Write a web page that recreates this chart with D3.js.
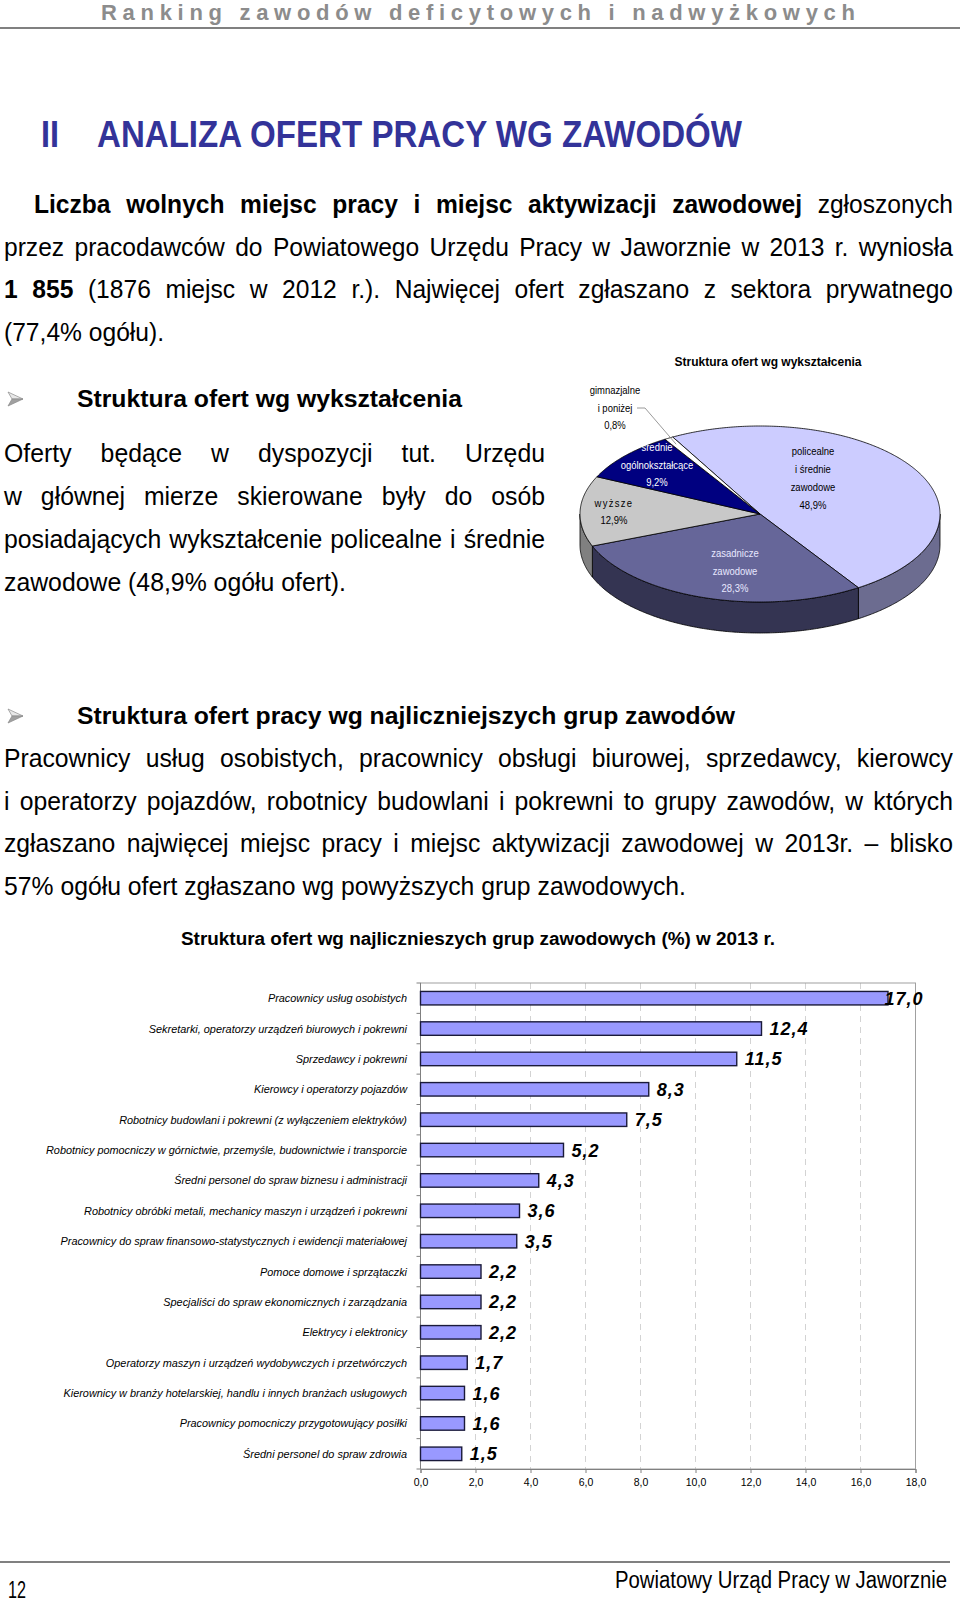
<!DOCTYPE html>
<html><head><meta charset="utf-8">
<script src="https://cdn.jsdelivr.net/npm/d3@7"></script>
<style>body{margin:0;background:#fff}svg{display:block}</style>
</head><body>
<svg id="c" width="960" height="1603"></svg>
<script>
// ---------- DATA ----------
const pieCategories = ["policealne i średnie zawodowe","zasadnicze zawodowe","wyższe","średnie ogólnokształcące","gimnazjalne i poniżej"];
const pieValues = [48.9, 28.3, 12.9, 9.2, 0.8];
const pieLabelLines = [["policealne","i średnie","zawodowe","48,9%"],["zasadnicze","zawodowe","28,3%"],["wyższe","12,9%"],["srednie","ogólnokształcące","9,2%"],["gimnazjalne","i poniżej","0,8%"]];

const barCategories = [
 "Pracownicy usług osobistych",
 "Sekretarki, operatorzy urządzeń biurowych i pokrewni",
 "Sprzedawcy i pokrewni",
 "Kierowcy i operatorzy pojazdów",
 "Robotnicy budowlani i pokrewni (z wyłączeniem elektryków)",
 "Robotnicy pomocniczy w górnictwie, przemyśle, budownictwie i transporcie",
 "Średni personel do spraw  biznesu i administracji",
 "Robotnicy obróbki metali, mechanicy maszyn i urządzeń i pokrewni",
 "Pracownicy do spraw finansowo-statystycznych i ewidencji materiałowej",
 "Pomoce domowe i sprzątaczki",
 "Specjaliści do spraw ekonomicznych i zarządzania",
 "Elektrycy i elektronicy",
 "Operatorzy maszyn i urządzeń wydobywczych i przetwórczych",
 "Kierownicy w branży hotelarskiej, handlu i innych branżach usługowych",
 "Pracownicy pomocniczy przygotowujący posiłki",
 "Średni personel do spraw zdrowia"];
const barValues = [17.0, 12.4, 11.5, 8.3, 7.5, 5.2, 4.3, 3.6, 3.5, 2.2, 2.2, 2.2, 1.7, 1.6, 1.6, 1.5];
const xTickValues = [0,2,4,6,8,10,12,14,16,18];

const headerText = "Ranking zawodów deficytowych i nadwyżkowych";
const para1 = ["**Liczba wolnych miejsc pracy i miejsc aktywizacji zawodowej** zgłoszonych",
 "przez pracodawców do Powiatowego Urzędu Pracy w Jaworznie w 2013 r. wyniosła",
 "**1 855** (1876 miejsc w 2012 r.). Najwięcej ofert zgłaszano z sektora prywatnego",
 "(77,4% ogółu)."];
const para2 = ["Oferty będące w dyspozycji tut. Urzędu",
 "w głównej mierze skierowane były do osób",
 "posiadających wykształcenie policealne i średnie",
 "zawodowe (48,9% ogółu ofert)."];
const para3 = ["Pracownicy usług osobistych, pracownicy obsługi biurowej, sprzedawcy, kierowcy",
 "i operatorzy pojazdów, robotnicy budowlani i pokrewni to grupy zawodów, w których",
 "zgłaszano najwięcej miejsc pracy i miejsc aktywizacji zawodowej w 2013r. – blisko",
 "57% ogółu ofert zgłaszano wg powyższych grup zawodowych."];

// ---------- HELPERS ----------
const svg = d3.select("#c");
const SANS = "'Liberation Sans', Arial, sans-serif";
function addText(g, str, x, y, o) {
  const t = g.append("text").attr("x", x).attr("y", y).text(str)
    .attr("font-family", o.family || SANS).attr("font-size", o.size)
    .attr("font-weight", o.bold ? "bold" : "normal")
    .attr("font-style", o.italic ? "italic" : "normal")
    .attr("fill", o.fill || "#000").attr("text-anchor", o.anchor || "start");
  if (o.ls) t.attr("letter-spacing", o.ls);
  if (o.width) t.attr("textLength", o.width).attr("lengthAdjust", o.adjust || "spacingAndGlyphs");
  if (o.k) { const w = t.node().getComputedTextLength(); t.attr("textLength", w * o.k).attr("lengthAdjust", "spacingAndGlyphs"); }
  return t;
}
function measureW(g, w, size, bold) {
  const t = g.append("text").attr("font-family", SANS).attr("font-size", size)
    .attr("font-weight", bold ? "bold" : "normal").text(w);
  const l = t.node().getComputedTextLength(); t.remove(); return l;
}
function parse(line) {
  const words = [];
  line.split("**").forEach((p, i) => p.split(" ").filter(s => s.length).forEach(w => words.push({w, b: i % 2 === 1})));
  return words;
}
function paragraph(lines, o) {
  const g = svg.append("g");
  const space = measureW(g, "a a", o.size, false) - measureW(g, "aa", o.size, false);
  const L = lines.map(parse);
  L.forEach(ws => ws.forEach(d => d.n = measureW(g, d.w, o.size, d.b)));
  const last = L[L.length - 1];
  const natLast = d3.sum(last, d => d.n) + space * (last.length - 1);
  const k = (o.lastEnd - o.x0) / natLast;
  L.forEach((ws, i) => {
    const xs = o.x0 + (i === 0 ? (o.indent || 0) : 0);
    const isLast = i === L.length - 1;
    const tot = d3.sum(ws, d => d.n * k);
    const gap = isLast ? space * k : (o.x1 - xs - tot) / (ws.length - 1);
    let x = xs; const y = o.y0 + i * o.lh;
    ws.forEach(d => {
      g.append("text").attr("x", x).attr("y", y).text(d.w)
        .attr("font-family", SANS).attr("font-size", o.size)
        .attr("font-weight", d.b ? "bold" : "normal").attr("fill", "#000")
        .attr("textLength", d.n * k).attr("lengthAdjust", "spacingAndGlyphs");
      x += d.n * k + gap;
    });
  });
}
function arrow(x, yc) {
  const g = svg.append("g");
  g.append("path").attr("d", `M${x},${yc-7}L${x+15},${yc}L${x+4},${yc}Z`).attr("fill", "#e8e8e8").attr("stroke", "#8a8a8a").attr("stroke-width", 0.7);
  g.append("path").attr("d", `M${x},${yc+7}L${x+15},${yc}L${x+4},${yc}Z`).attr("fill", "#a0a0a0").attr("stroke", "#8a8a8a").attr("stroke-width", 0.7);
}

// ---------- PAGE HEADER ----------
addText(svg, headerText, 101, 20, {size: 22, bold: true, fill: "#8c8c8c", width: 754, adjust: "spacing"});
svg.append("line").attr("x1", 0).attr("x2", 960).attr("y1", 28).attr("y2", 28).attr("stroke", "#808080").attr("stroke-width", 2);

addText(svg, "II", 41, 147, {size: 37, bold: true, fill: "#333399", width: 18});
addText(svg, "ANALIZA OFERT PRACY WG ZAWODÓW", 97, 147, {size: 37, bold: true, fill: "#333399", width: 645});

paragraph(para1, {x0: 4, x1: 953, y0: 213, lh: 42.7, size: 26, lastEnd: 164, indent: 30});

arrow(8, 399);
addText(svg, "Struktura ofert wg wykształcenia", 77, 407, {size: 23, bold: true, width: 385});
paragraph(para2, {x0: 4, x1: 545, y0: 462, lh: 43, size: 25, lastEnd: 346});

// ---------- PIE (3D) ----------
const pieG = svg.append("g");
addText(pieG, "Struktura ofert wg wykształcenia", 768, 366, {size: 13, bold: true, anchor: "middle", width: 187});
const cx = 760, cy = 514, rx = 180, ry = 88, depth = 31;
const a0 = -29 * Math.PI / 180;
const pie = d3.pie().sort(null).value(d => d).startAngle(a0).endAngle(a0 + 2 * Math.PI);
const arcs = pie(pieValues);
const topColors = ["#CCCCFF", "#666699", "#C8C8C8", "#000080", "#FFFFFF"];
const sideColors = ["#6C6C90", "#343452", "#808080", "#000040", "#999999"];
function pt(a, dz) { return [cx + rx * Math.sin(a), cy - ry * Math.cos(a) + (dz || 0)]; }
function arcPts(s, e, dz) { const n = Math.max(2, Math.ceil(Math.abs(e - s) / 0.01)); return d3.range(n + 1).map(i => pt(s + (e - s) * i / n, dz)); }
const line = d3.line();
arcs.forEach((d, i) => {
  const s = Math.max(d.startAngle, Math.PI / 2), e = Math.min(d.endAngle, 3 * Math.PI / 2);
  if (s < e) {
    const pts = arcPts(s, e, 0).concat(arcPts(s, e, depth).reverse());
    pieG.append("path").attr("d", line(pts) + "Z").attr("fill", sideColors[i]).attr("stroke", "#000").attr("stroke-width", 0.8);
  }
});
arcs.forEach((d, i) => {
  const pts = [[cx, cy]].concat(arcPts(d.startAngle, d.endAngle, 0));
  pieG.append("path").attr("d", line(pts) + "Z").attr("fill", topColors[i]).attr("stroke", "#000").attr("stroke-width", 0.8);
});
// leader line for the smallest slice
const gm = arcs[4]; const gmMid = (gm.startAngle + gm.endAngle) / 2;
const lp = [cx + rx * 0.92 * Math.sin(gmMid), cy - ry * 0.92 * Math.cos(gmMid)];
pieG.append("path").attr("d", line([[637, 408], [645, 408], lp])).attr("fill", "none").attr("stroke", "#808080").attr("stroke-width", 0.8);
// labels (layout offsets relative to pie centre)
const pieLabelLayout = [
  {dx: 53, dy: -63, step: 18, fill: "#000"},
  {dx: -25, dy: 39, step: 17.5, fill: "#E8E8FF"},
  {dx: -146, dy: -11, step: 16.5, fill: "#000"},
  {dx: -103, dy: -67, step: 17.5, fill: "#fff"},
  {dx: -145, dy: -124, step: 17.5, fill: "#000"}];
pieLabelLines.forEach((lines, i) => {
  const L = pieLabelLayout[i];
  lines.forEach((s, j) => addText(pieG, s, cx + L.dx, cy + L.dy + j * L.step + 4, {size: 11, anchor: "middle", fill: L.fill, k: 0.86, ls: (i === 2 && j === 0) ? 1.5 : null}));
});

// ---------- SECTION 2 ----------
arrow(8, 716);
addText(svg, "Struktura ofert pracy wg najliczniejszych grup zawodów", 77, 724, {size: 23, bold: true, width: 658});
paragraph(para3, {x0: 4, x1: 953, y0: 767, lh: 42.7, size: 25, lastEnd: 686});

// ---------- BAR CHART ----------
const bg = svg.append("g");
addText(bg, "Struktura ofert wg najlicznieszych grup zawodowych (%) w 2013 r.", 478, 945, {size: 18, bold: true, anchor: "middle", width: 594});
const x = d3.scaleLinear().domain([0, 18]).range([420.5, 915.5]);
const y = d3.scaleBand().domain(barCategories).range([983, 1469]).paddingInner(0.556).paddingOuter(0.278);
const fmt = v => d3.format(".1f")(v).replace(".", ",");
// grid
bg.append("g").selectAll("line").data(xTickValues.filter(v => v > 0 && v < 18)).join("line")
  .attr("x1", d => x(d)).attr("x2", d => x(d)).attr("y1", 983).attr("y2", 1469)
  .attr("stroke", "#c8c8c8").attr("stroke-width", 0.8).attr("stroke-dasharray", "6,5");
// frame
bg.append("rect").attr("x", x(0)).attr("y", 983).attr("width", x(18) - x(0)).attr("height", 486)
  .attr("fill", "none").attr("stroke", "#a0a0a0").attr("stroke-width", 1);
// bottom axis
const xa = bg.append("g").attr("transform", "translate(0,1469)")
  .call(d3.axisBottom(x).tickValues(xTickValues).tickFormat(fmt).tickSize(4).tickPadding(6));
xa.select(".domain").attr("stroke", "#808080");
xa.selectAll(".tick line").attr("stroke", "#808080");
xa.selectAll("text").attr("font-family", SANS).attr("font-size", 10.5).attr("fill", "#000");
// left axis line + ticks at band boundaries
const stepH = y.step();
const bounds = barCategories.map(c => y(c) - stepH * y.paddingInner() / 2).concat([1469]);
bg.append("line").attr("x1", x(0)).attr("x2", x(0)).attr("y1", 983).attr("y2", 1469).attr("stroke", "#808080");
bg.append("g").selectAll("line").data(bounds).join("line")
  .attr("x1", x(0) - 4).attr("x2", x(0)).attr("y1", d => d).attr("y2", d => d).attr("stroke", "#808080");
// bars
bg.append("g").selectAll("rect").data(barValues).join("rect")
  .attr("x", x(0)).attr("y", (d, i) => y(barCategories[i])).attr("width", d => x(d) - x(0)).attr("height", y.bandwidth())
  .attr("fill", "#9999FF").attr("stroke", "#1a1a3a").attr("stroke-width", 1.4);
// category labels
const catG = bg.append("g");
const catT = barCategories.map((c, i) => addText(catG, c, 407, y(c) + y.bandwidth() / 2 + 4, {size: 11, italic: true, anchor: "end", fill: "#000"}));
const kCat = 361 / catT[5].node().getComputedTextLength();
catT.forEach(t => { const w = t.node().getComputedTextLength(); t.attr("textLength", w * kCat).attr("lengthAdjust", "spacingAndGlyphs"); });
// value labels
const valG = bg.append("g");
barValues.forEach((v, i) => {
  const t = addText(valG, fmt(v), 0, y(barCategories[i]) + y.bandwidth() / 2 + 6.5, {size: 18, bold: true, italic: true, ls: 1});
  const w = t.node().getComputedTextLength();
  t.attr("x", Math.min(x(v) + 8, x(18) + 8 - w));
});

// ---------- FOOTER ----------
svg.append("line").attr("x1", 0).attr("x2", 950).attr("y1", 1562).attr("y2", 1562).attr("stroke", "#808080").attr("stroke-width", 2);
addText(svg, "12", 8, 1598, {size: 24, width: 18});
addText(svg, "Powiatowy Urząd Pracy w Jaworznie", 615, 1588, {size: 23, width: 332});
</script>
</body></html>
